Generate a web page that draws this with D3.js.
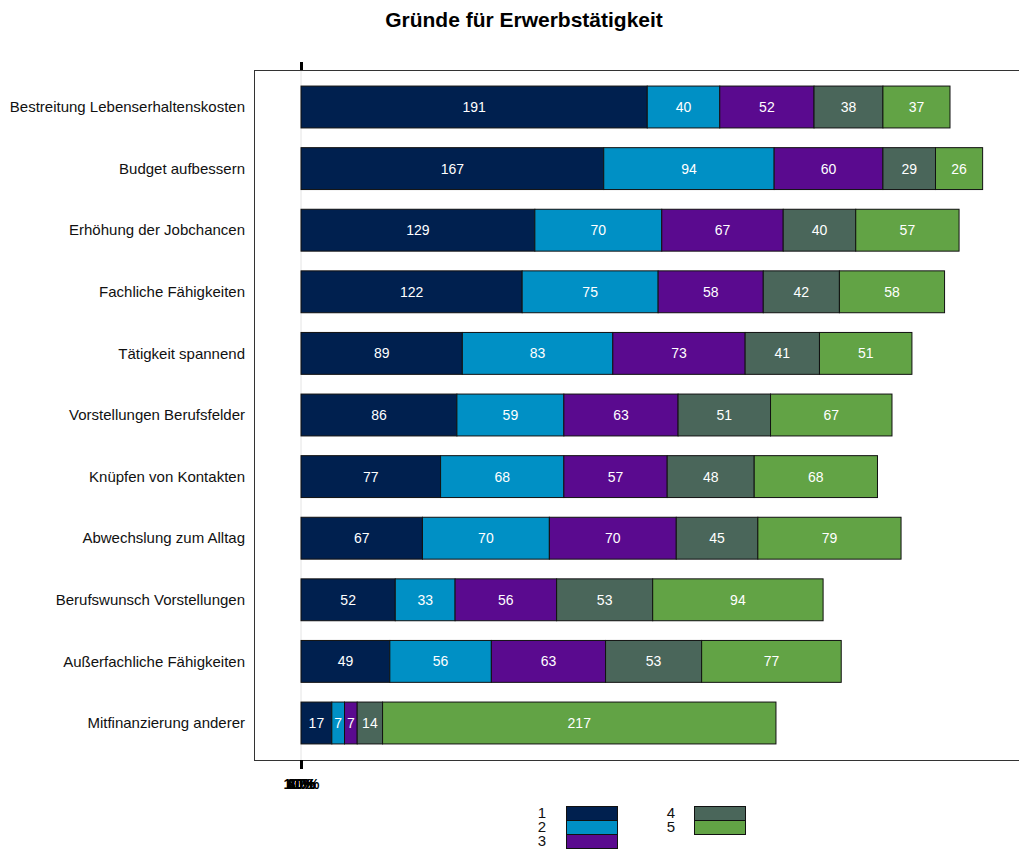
<!DOCTYPE html>
<html>
<head>
<meta charset="utf-8">
<script src="https://cdn.jsdelivr.net/npm/d3@7/dist/d3.min.js"></script>
<style>
  html, body { margin: 0; padding: 0; background: #fff; }
  svg { display: block; font-family: "Liberation Sans", Arial, sans-serif; }
</style>
</head>
<body>
<svg id="chart" width="1019" height="849"></svg>
<script>
// Reasons for employment, five answer levels per reason
const categories = [
  "Bestreitung Lebenserhaltenskosten",
  "Budget aufbessern",
  "Erhöhung der Jobchancen",
  "Fachliche Fähigkeiten",
  "Tätigkeit spannend",
  "Vorstellungen Berufsfelder",
  "Knüpfen von Kontakten",
  "Abwechslung zum Alltag",
  "Berufswunsch Vorstellungen",
  "Außerfachliche Fähigkeiten",
  "Mitfinanzierung anderer"
];
const seriesNames = ["1", "2", "3", "4", "5"];
const level1 = [191, 167, 129, 122, 89, 86, 77, 67, 52, 49, 17];
const level2 = [40, 94, 70, 75, 83, 59, 68, 70, 33, 56, 7];
const level3 = [52, 60, 67, 58, 73, 63, 57, 70, 56, 63, 7];
const level4 = [38, 29, 40, 42, 41, 51, 48, 45, 53, 53, 14];
const level5 = [37, 26, 57, 58, 51, 67, 68, 79, 94, 77, 217];
const colors = ["#00204f", "#0090c5", "#5a0a8f", "#4a665a", "#62a345"];
const axisTicks = [0, 0.2, 0.4, 0.6, 0.8, 1];

const svg = d3.select("#chart");

const rows = categories.map((c, i) => ({
  cat: c,
  "1": level1[i], "2": level2[i], "3": level3[i], "4": level4[i], "5": level5[i]
}));
const stacked = d3.stack().keys(seriesNames)(rows);

const x = d3.scaleLinear().domain([0, 358]).range([301, 950]);
const y = d3.scaleBand().domain(categories).range([76.2, 753.8]).paddingInner(0.32).paddingOuter(0.16);

// plot frame
svg.append("rect")
  .attr("x", 254.5).attr("y", 70.5)
  .attr("width", 800).attr("height", 690)
  .attr("fill", "none").attr("stroke", "#333").attr("stroke-width", 1);

// zero grid line
svg.append("line")
  .attr("x1", 301).attr("x2", 301).attr("y1", 71).attr("y2", 760)
  .attr("stroke", "#e4e4e4").attr("stroke-width", 1);

// bars
const groups = svg.append("g").selectAll("g").data(stacked).join("g")
  .attr("fill", (d, i) => colors[i]);
groups.selectAll("rect").data(d => d.map(v => ({ v, key: d.key }))).join("rect")
  .attr("x", d => x(d.v[0]))
  .attr("y", d => y(d.v.data.cat))
  .attr("width", d => x(d.v[1]) - x(d.v[0]))
  .attr("height", y.bandwidth())
  .attr("stroke", "#111").attr("stroke-width", 1);

// value labels
groups.selectAll("text").data(d => d.map(v => ({ v, key: d.key }))).join("text")
  .attr("x", d => (x(d.v[0]) + x(d.v[1])) / 2)
  .attr("y", d => y(d.v.data.cat) + y.bandwidth() / 2)
  .attr("dy", "0.35em")
  .attr("text-anchor", "middle")
  .attr("fill", "#fff")
  .attr("font-size", 14)
  .text(d => d.v.data[d.key]);

// category labels
svg.append("g").selectAll("text").data(categories).join("text")
  .attr("x", 245)
  .attr("y", d => y(d) + y.bandwidth() / 2)
  .attr("dy", "0.35em")
  .attr("text-anchor", "end")
  .attr("font-size", 15)
  .attr("fill", "#111")
  .text(d => d);

// percentage axes (collapsed onto the zero line)
const pct = d3.scaleLinear().domain([0, 1]).range([301, 301]);
const axisTopG = svg.append("g").attr("transform", "translate(0,70)")
  .call(d3.axisTop(pct).tickValues(axisTicks).tickSize(8).tickFormat(""));
axisTopG.select(".domain").remove();
axisTopG.selectAll("line").attr("stroke", "#000").attr("stroke-width", 3);

const axisBottomG = svg.append("g").attr("transform", "translate(0,760)")
  .call(d3.axisBottom(pct).tickValues(axisTicks).tickSize(9).tickPadding(10)
    .tickFormat(d3.format(".0%")));
axisBottomG.select(".domain").remove();
axisBottomG.selectAll("line").attr("stroke", "#000").attr("stroke-width", 3);
axisBottomG.selectAll("text").attr("font-size", 14).attr("font-weight", "bold")
  .attr("fill", "#000")
  .attr("font-family", "Liberation Sans, Arial, sans-serif");

// title
svg.append("text")
  .attr("x", 524).attr("y", 27)
  .attr("text-anchor", "middle")
  .attr("font-size", 21).attr("font-weight", "bold")
  .attr("fill", "#000")
  .text("Gründe für Erwerbstätigkeit");

// legend
const legendPos = [
  { lx: 546, sx: 566, y: 806 },
  { lx: 546, sx: 566, y: 820 },
  { lx: 546, sx: 566, y: 834 },
  { lx: 675, sx: 694, y: 806 },
  { lx: 675, sx: 694, y: 820 }
];
const legend = svg.append("g").selectAll("g").data(seriesNames).join("g");
legend.append("rect")
  .attr("x", (d, i) => legendPos[i].sx + 0.5)
  .attr("y", (d, i) => legendPos[i].y + 0.5)
  .attr("width", 51).attr("height", 14)
  .attr("fill", (d, i) => colors[i])
  .attr("stroke", "#111");
legend.append("text")
  .attr("x", (d, i) => legendPos[i].lx)
  .attr("y", (d, i) => legendPos[i].y + 7)
  .attr("dy", "0.35em")
  .attr("text-anchor", "end")
  .attr("font-size", 15)
  .attr("fill", "#111")
  .text(d => d);
</script>
</body>
</html>
